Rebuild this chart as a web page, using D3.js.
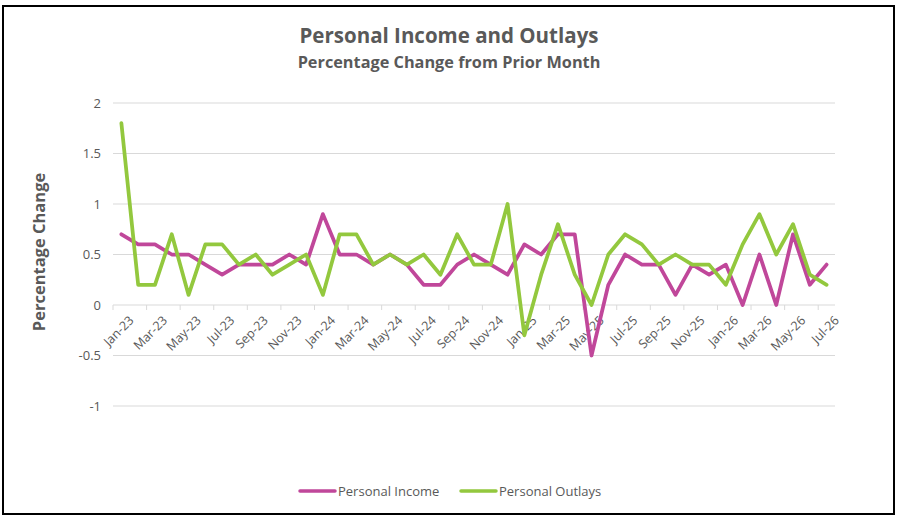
<!DOCTYPE html>
<html>
<head>
<meta charset="utf-8">
<script src="https://cdn.jsdelivr.net/npm/d3@7"></script>
<style>
  body { margin: 0; background: #fff; }
  svg { display: block; font-family: "Open Sans", sans-serif; }
</style>
</head>
<body>
<svg id="chart" width="897" height="520"></svg>
<script>
// Monthly categories
const months = [
  "Jan-23","Feb-23","Mar-23","Apr-23","May-23","Jun-23","Jul-23","Aug-23","Sep-23","Oct-23","Nov-23","Dec-23",
  "Jan-24","Feb-24","Mar-24","Apr-24","May-24","Jun-24","Jul-24","Aug-24","Sep-24","Oct-24","Nov-24","Dec-24",
  "Jan-25","Feb-25","Mar-25","Apr-25","May-25","Jun-25","Jul-25","Aug-25","Sep-25","Oct-25","Nov-25","Dec-25",
  "Jan-26","Feb-26","Mar-26","Apr-26","May-26","Jun-26","Jul-26"
];

const personalIncome = [
  0.7, 0.6, 0.6, 0.5, 0.5, 0.4, 0.3, 0.4, 0.4, 0.4, 0.5, 0.4,
  0.9, 0.5, 0.5, 0.4, 0.5, 0.4, 0.2, 0.2, 0.4, 0.5, 0.4, 0.3,
  0.6, 0.5, 0.7, 0.7, -0.5, 0.2, 0.5, 0.4, 0.4, 0.1, 0.4, 0.3,
  0.4, 0.0, 0.5, 0.0, 0.7, 0.2, 0.4
];

const personalOutlays = [
  1.8, 0.2, 0.2, 0.7, 0.1, 0.6, 0.6, 0.4, 0.5, 0.3, 0.4, 0.5,
  0.1, 0.7, 0.7, 0.4, 0.5, 0.4, 0.5, 0.3, 0.7, 0.4, 0.4, 1.0,
  -0.3, 0.3, 0.8, 0.3, 0.0, 0.5, 0.7, 0.6, 0.4, 0.5, 0.4, 0.4,
  0.2, 0.6, 0.9, 0.5, 0.8, 0.3, 0.2
];

const yTicks = [-1, -0.5, 0, 0.5, 1, 1.5, 2];

const series = [
  { name: "Personal Income", values: personalIncome, color: "#C0479A" },
  { name: "Personal Outlays", values: personalOutlays, color: "#93C83E" }
];

const svg = d3.select("#chart");
const textColor = "#595959";

// outer border
svg.append("rect")
  .attr("x", 3).attr("y", 6)
  .attr("width", 891).attr("height", 508)
  .attr("fill", "none")
  .attr("stroke", "#000")
  .attr("stroke-width", 2);

// scales
const x = d3.scaleBand()
  .domain(months)
  .range([113, 835])
  .padding(0);

const y = d3.scaleLinear()
  .domain([-1, 2])
  .range([406, 103]);

const cx = d => x(d) + x.bandwidth() / 2;

// gridlines
svg.append("g")
  .selectAll("line")
  .data(yTicks.filter(t => t !== 0))
  .join("line")
  .attr("x1", 113).attr("x2", 835)
  .attr("y1", d => y(d)).attr("y2", d => y(d))
  .attr("stroke", "#d9d9d9")
  .attr("stroke-width", 1);

// y tick labels
svg.append("g")
  .selectAll("text")
  .data(yTicks)
  .join("text")
  .attr("x", 101)
  .attr("y", d => y(d))
  .attr("dy", "0.35em")
  .attr("text-anchor", "end")
  .attr("fill", textColor)
  .style("font-size", "13px")
  .text(d => d);

// x axis at zero
const xAxis = svg.append("g");
xAxis.append("line")
  .attr("x1", 113).attr("x2", 835)
  .attr("y1", y(0)).attr("y2", y(0))
  .attr("stroke", "#d9d9d9");

const labelled = months.filter((m, i) => i % 2 === 0);

xAxis.selectAll("line.tick")
  .data(labelled)
  .join("line")
  .attr("class", "tick")
  .attr("x1", d => x(d)).attr("x2", d => x(d))
  .attr("y1", y(0)).attr("y2", y(0) + 5)
  .attr("stroke", "#d9d9d9");

xAxis.selectAll("text")
  .data(labelled)
  .join("text")
  .attr("transform", d => `translate(${cx(d) + 7},${y(0) + 10}) rotate(-45)`)
  .attr("text-anchor", "end")
  .attr("dy", "0.7em")
  .attr("fill", textColor)
  .style("font-size", "12.5px")
  .text(d => d);

// lines
const line = d3.line()
  .x((d, i) => cx(months[i]))
  .y(d => y(d));

svg.append("g")
  .selectAll("path")
  .data(series)
  .join("path")
  .attr("d", s => line(s.values))
  .attr("fill", "none")
  .attr("stroke", s => s.color)
  .attr("stroke-width", 3.75)
  .attr("stroke-linejoin", "round")
  .attr("stroke-linecap", "round");

// titles
svg.append("text")
  .attr("x", 449).attr("y", 43)
  .attr("text-anchor", "middle")
  .attr("fill", textColor)
  .style("font-size", "20.5px")
  .style("font-weight", "bold")
  .text("Personal Income and Outlays");

svg.append("text")
  .attr("x", 449).attr("y", 68)
  .attr("text-anchor", "middle")
  .attr("fill", textColor)
  .style("font-size", "16.3px")
  .style("font-weight", "bold")
  .text("Percentage Change from Prior Month");

// y axis title
svg.append("text")
  .attr("transform", "translate(45,252) rotate(-90)")
  .attr("text-anchor", "middle")
  .attr("fill", textColor)
  .style("font-size", "16.5px")
  .style("font-weight", "bold")
  .text("Percentage Change");

// legend
const legendX = [300, 461];
const legend = svg.append("g")
  .selectAll("g")
  .data(series)
  .join("g")
  .attr("transform", (d, i) => `translate(${legendX[i]},491)`);

legend.append("line")
  .attr("x1", 0).attr("x2", 35)
  .attr("stroke", d => d.color)
  .attr("stroke-width", 3.5)
  .attr("stroke-linecap", "round");

legend.append("text")
  .attr("x", 38)
  .attr("dy", "0.35em")
  .attr("fill", textColor)
  .style("font-size", "13px")
  .text(d => d.name);
</script>
</body>
</html>
